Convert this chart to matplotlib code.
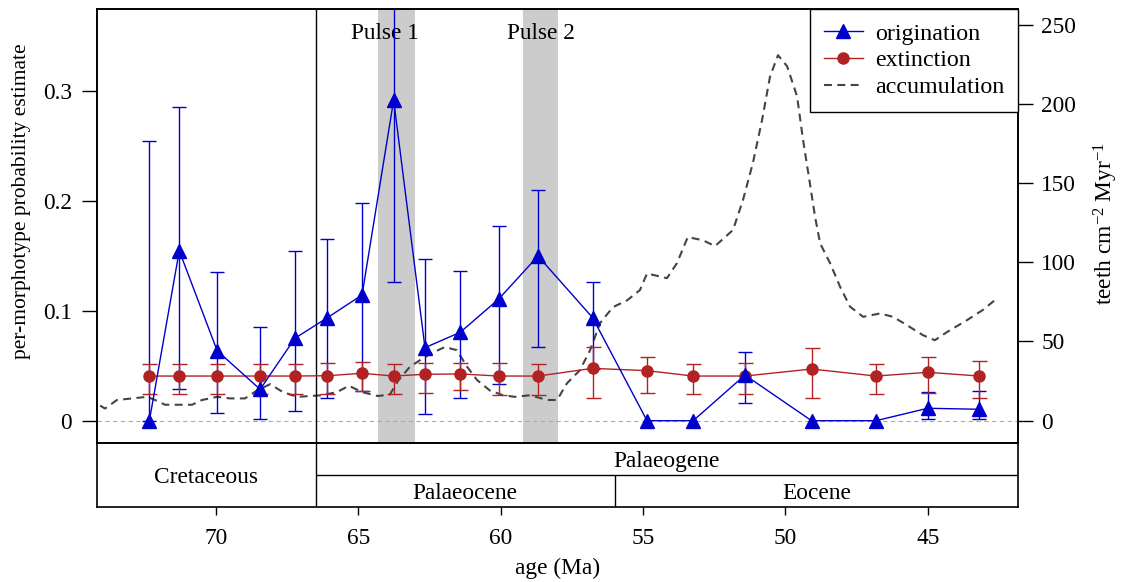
import numpy as np
import matplotlib
matplotlib.use("Agg")
import matplotlib.pyplot as plt
from matplotlib.lines import Line2D

plt.rcParams['font.family'] = ['Liberation Serif', 'DejaVu Serif']
plt.rcParams['mathtext.fontset'] = 'custom'
plt.rcParams['mathtext.rm'] = 'Liberation Serif'
plt.rcParams['mathtext.it'] = 'Liberation Serif:italic'
plt.rcParams['font.size'] = 16.8

# ---------------- data ----------------
ages = [72.34, 71.29, 69.96, 68.45, 67.23, 66.09, 64.87, 63.76, 62.66, 61.42,
        60.07, 58.69, 56.77, 54.86, 53.24, 51.42, 49.08, 46.82, 45.00, 43.19]

orig = [0.0, 0.1545, 0.0636, 0.0285, 0.0749, 0.0936, 0.1143, 0.2915, 0.0664, 0.0804,
        0.1106, 0.1497, 0.0936, 0.0, 0.0, 0.0415, 0.0, 0.0, 0.0113, 0.0104]
orig_hi = [0.254, 0.2855, 0.1349, 0.0855, 0.1543, 0.1655, 0.1976, 0.45, 0.1467, 0.1358,
           0.177, 0.2094, 0.1264, np.nan, np.nan, 0.0627, np.nan, np.nan, 0.0258, 0.027]
orig_lo = [0.0, 0.0288, 0.0067, 0.0013, 0.0091, 0.0204, 0.027, 0.1261, 0.0061, 0.0204,
           0.0331, 0.0667, 0.0467, np.nan, np.nan, 0.0158, np.nan, np.nan, 0.0013, 0.0013]

ext = [0.0406, 0.0406, 0.0406, 0.0406, 0.0406, 0.0409, 0.0431, 0.0406, 0.0422, 0.0425,
       0.0406, 0.0406, 0.0476, 0.0455, 0.0406, 0.0406, 0.047, 0.0406, 0.044, 0.0406]
ext_hi = [0.0513, 0.0513, 0.0513, 0.0513, 0.0513, 0.0522, 0.0534, 0.0513, 0.0527, 0.0527,
          0.0527, 0.0513, 0.0673, 0.0582, 0.0513, 0.0522, 0.0664, 0.0513, 0.0576, 0.0545]
ext_lo = [0.024, 0.024, 0.024, 0.024, 0.024, 0.024, 0.027, 0.024, 0.0255, 0.0279,
          0.0234, 0.0234, 0.0204, 0.0249, 0.024, 0.024, 0.0209, 0.024, 0.0249, 0.0209]

acc_age = [74.07, 73.90, 73.48, 72.95, 72.42, 72.14, 71.79, 71.26, 70.84, 70.49,
           69.96, 69.51, 68.98, 68.56, 68.10, 67.65, 67.15, 66.70, 66.28, 65.75,
           65.33, 64.87, 64.31, 63.89, 63.61, 63.19, 62.73, 62.38, 61.96, 61.54,
           61.18, 60.83, 60.38, 59.92, 59.50, 58.97, 58.37, 58.02, 57.67, 57.22,
           56.86, 56.51, 56.06, 55.56, 55.11, 54.86, 54.16, 53.81, 53.43, 52.90,
           52.47, 51.84, 51.49, 51.14, 50.82, 50.54, 50.26, 49.94, 49.59, 49.38,
           49.14, 48.96, 48.78, 48.43, 48.08, 47.73, 47.27, 46.68, 46.22, 45.73,
           45.17, 44.75, 44.32, 43.62, 43.06, 42.57]
acc_val = [9.5, 7.6, 13, 14, 15, 13, 10, 10, 10, 13,
           15, 14, 14, 19, 23, 18, 15, 15.5, 16, 18,
           22, 18, 15.5, 16.5, 25, 34, 39.4, 43, 46.5, 44.5,
           34, 25.6, 19, 16, 15, 16, 13, 13, 23.6, 31.8,
           44.5, 61.6, 71.7, 76, 82.5, 93, 90, 99.5, 116, 114,
           110.3, 120.5, 139.4, 163, 190, 217.5, 231, 224, 205, 177.4,
           150, 129, 112, 99.5, 84.6, 72, 65.6, 67.7, 65.6, 60.3,
           54, 50.8, 56, 63.5, 70, 77.2]

pulses = [(64.3, 63.0), (59.2, 58.0)]
pulse_labels = ["Pulse 1", "Pulse 2"]
pulse_label_x = [64.07, 58.6]

kpg = 66.5
pal_eoc = 56.0
xmin, xmax = 74.18, 41.83

periods = [("Cretaceous", xmin, kpg), ("Palaeogene", kpg, xmax)]
epochs = [("Palaeocene", kpg, pal_eoc), ("Eocene", pal_eoc, xmax)]

left_ticks = [0, 0.1, 0.2, 0.3]
left_ticklabels = ["0", "0.1", "0.2", "0.3"]
right_ticks = [0, 50, 100, 150, 200, 250]
x_ticks = [70, 65, 60, 55, 50, 45]

blue = '#0000CD'
red = '#B22222'
dgray = '#444444'

# ---------------- figure ----------------
W, H = 1121, 582
fig = plt.figure(figsize=(W / 100, H / 100), dpi=100)
L, R = 97 / W, 1018 / W
top_px, mid_px, bot_px = 9, 442.7, 507
ax = fig.add_axes([L, 1 - mid_px / H, R - L, (mid_px - top_px) / H])
ax2 = ax.twinx()
axts = fig.add_axes([L, 1 - bot_px / H, R - L, (bot_px - mid_px) / H], sharex=ax)

ax.set_zorder(ax2.get_zorder() + 1)
ax.patch.set_visible(False)

ax.set_xlim(xmin, xmax)
ax.set_ylim(-0.020, 0.3743)
ax2.set_ylim(-14.0, 260.2)

# shaded pulse bands and accumulation on the back axis
for (a0, a1) in pulses:
    ax2.axvspan(a0, a1, color='#CCCCCC', lw=0, zorder=0)
ax2.plot(acc_age, acc_val, color=dgray, lw=1.5, dashes=(3.8, 2.6), zorder=2)

# zero line and boundary line
ax.axhline(0, color='#AAAAAA', lw=0.8, dashes=(4, 3), zorder=1)
ax.axvline(kpg, color='black', lw=1.0, zorder=1)

for lab, xp in zip(pulse_labels, pulse_label_x):
    ax.text(xp, 0.352, lab, ha='center', va='center', zorder=1)

ages_a = np.array(ages)
oh, ol, o = np.array(orig_hi), np.array(orig_lo), np.array(orig)
m = ~np.isnan(oh)
ax.errorbar(ages_a[m], o[m], yerr=[o[m] - ol[m], oh[m] - o[m]], fmt='none',
            ecolor=blue, elinewidth=1.0, capsize=5.2, capthick=1.0, zorder=2)
e, eh, el = np.array(ext), np.array(ext_hi), np.array(ext_lo)
ax.errorbar(ages_a, e, yerr=[e - el, eh - e], fmt='none',
            ecolor=red, elinewidth=1.0, capsize=5.4, capthick=1.0, zorder=2)
ax.plot(ages, ext, color=red, lw=1.0, marker='o', ms=8, zorder=3)
ax.plot(ages, orig, color=blue, lw=1.0, marker='^', ms=10, zorder=4)

# axes styling
for a in (ax, ax2, axts):
    for s in a.spines.values():
        s.set_linewidth(1.2)
ax.tick_params(axis='x', bottom=False, labelbottom=False)
ax.set_yticks(left_ticks)
ax.set_yticklabels(left_ticklabels)
ax.tick_params(axis='y', direction='out', length=10.8, width=1.0, pad=7.2)
ax2.set_yticks(right_ticks)
ax2.tick_params(axis='y', direction='out', length=10.8, width=1.0, pad=6.0)

ax.set_ylabel("per-morphotype probability estimate", fontsize=15.5)
ax.yaxis.label.set_va('center')
ax.yaxis.set_label_coords((22 - 97) / 921, 0.557)
ax2.set_ylabel(r"teeth cm$^{-2}$ Myr$^{-1}$")
ax2.yaxis.label.set_va('center')
ax2.yaxis.set_label_coords((1106 - 97) / 921, 0.505)

# legend
handles = [Line2D([], [], color=blue, lw=1.0, marker='^', ms=10),
           Line2D([], [], color=red, lw=1.0, marker='o', ms=8),
           Line2D([], [], color=dgray, lw=1.5, dashes=(3.8, 2.6))]
leg = ax.legend(handles, ["origination", "extinction", "accumulation"],
                loc='upper right', bbox_to_anchor=(1, 1), borderaxespad=0,
                fancybox=False, edgecolor='black', framealpha=1, numpoints=1,
                handlelength=1.6, handletextpad=0.5, labelspacing=0.2,
                borderpad=0.58, fontsize=17.3)
leg.get_frame().set_linewidth(1.0)
leg.set_zorder(10)

# timescale
axts.set_ylim(0, 2)
axts.set_yticks([])
axts.axvline(kpg, color='black', lw=1.0)
axts.hlines(1, kpg, xmax, color='black', lw=1.0)
axts.vlines(pal_eoc, 0, 1, color='black', lw=1.0)
for name, a0, a1 in periods:
    yc = 1.0 if name == "Cretaceous" else 1.5
    axts.text((a0 + a1) / 2, yc, name, ha='center', va='center_baseline')
for name, a0, a1 in epochs:
    axts.text((a0 + a1) / 2, 0.5, name, ha='center', va='center_baseline')
axts.set_xticks(x_ticks)
axts.tick_params(axis='x', direction='out', length=5.8, width=1.0, pad=9)
axts.set_xlabel("age (Ma)", labelpad=7)

fig.savefig("out.png", dpi=100)
